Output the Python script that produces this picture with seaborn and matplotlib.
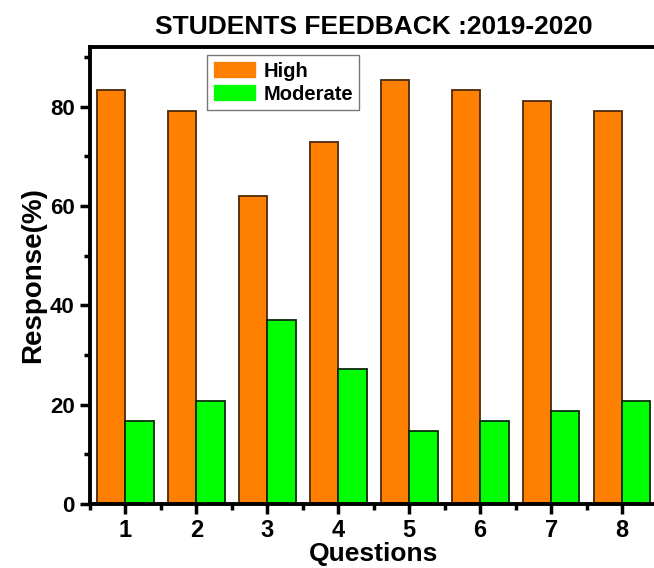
import matplotlib
matplotlib.use("Agg")
import matplotlib.pyplot as plt
import seaborn as sns
import pandas as pd
from matplotlib.ticker import MultipleLocator, FixedLocator

questions = ["1", "2", "3", "4", "5", "6", "7", "8"]
high = [83.3, 79.2, 62.0, 72.9, 85.4, 83.3, 81.2, 79.2]
moderate = [16.7, 20.8, 37.0, 27.1, 14.6, 16.7, 18.8, 20.8]
series_names = ["High", "Moderate"]

df = pd.DataFrame({
    "Questions": questions * 2,
    "Response": high + moderate,
    "Level": [series_names[0]] * len(high) + [series_names[1]] * len(moderate),
})

sns.set_style("ticks")
plt.rcParams["font.family"] = ["Liberation Sans", "DejaVu Sans"]
plt.rcParams["font.weight"] = "bold"
for k in ["text.color", "axes.labelcolor", "xtick.color", "ytick.color",
          "xtick.labelcolor", "ytick.labelcolor"]:
    plt.rcParams[k] = "black"

fig = plt.figure(figsize=(6.54, 5.68), dpi=100)
ax = fig.add_axes([0.1376, 0.1127, 0.8677, 0.8046])

sns.barplot(data=df, x="Questions", y="Response", hue="Level",
            palette={"High": "#FF8000", "Moderate": "#00FF00"},
            width=0.8, ax=ax, saturation=1)

for i, cont in enumerate(ax.containers):
    ec = "#4a2a0a" if i == 0 else "#0a2a0a"
    for p in cont:
        p.set_edgecolor(ec)
        p.set_linewidth(1.3)

ax.set_xlim(-0.5, 7.5)
ax.set_ylim(0, 92)
ax.yaxis.set_major_locator(MultipleLocator(20))
ax.yaxis.set_minor_locator(MultipleLocator(10))
ax.xaxis.set_minor_locator(FixedLocator([i + 0.5 for i in range(-1, 8)]))

for s in ["left", "bottom", "top", "right"]:
    ax.spines[s].set_linewidth(2.8)
    ax.spines[s].set_color("black")

ax.tick_params(axis="both", which="major", direction="out", length=7, width=2.5,
               colors="black")
ax.tick_params(axis="x", which="major", labelsize=17, pad=4)
ax.tick_params(axis="y", which="major", labelsize=16, pad=4)
ax.tick_params(axis="both", which="minor", direction="out", length=4, width=2.5,
               colors="black")
for lab in ax.get_xticklabels() + ax.get_yticklabels():
    lab.set_fontweight("bold")
    lab.set_color("black")

ax.set_xlabel("Questions", fontsize=19, fontweight="bold", labelpad=0, color="black")
ax.set_ylabel("Response(%)", fontsize=20, fontweight="bold", labelpad=3, color="black")
ax.set_title("STUDENTS FEEDBACK :2019-2020", fontsize=19, fontweight="bold", pad=9,
             color="black")

leg = ax.legend(loc="upper left", bbox_to_anchor=(0.206, 0.983), borderaxespad=0,
                frameon=True, fancybox=False, edgecolor="#555555", fontsize=14.5,
                handlelength=2.2, handleheight=1.0, borderpad=0.3,
                labelspacing=0.15, handletextpad=0.3)
leg.get_frame().set_linewidth(1.0)
for t in leg.get_texts():
    t.set_fontweight("bold")
    t.set_color("black")
for h in leg.legend_handles:
    h.set_linewidth(1.2)

fig.savefig("out.png", dpi=100)
